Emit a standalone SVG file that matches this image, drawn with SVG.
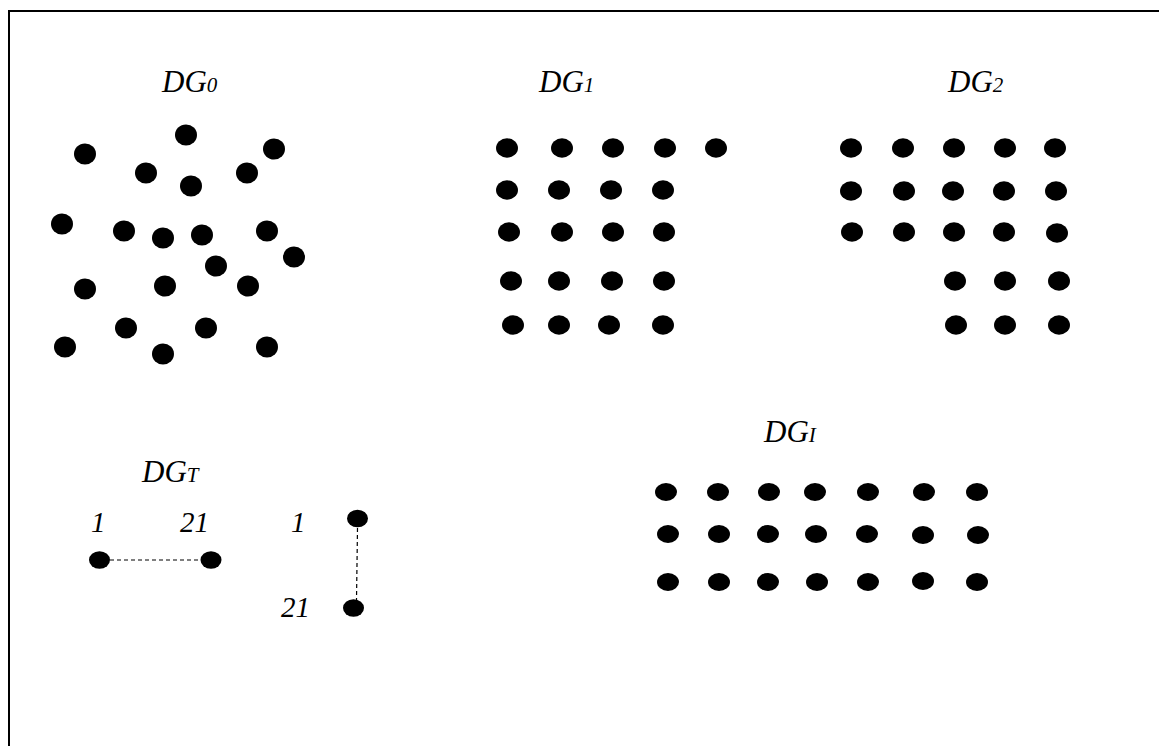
<svg xmlns="http://www.w3.org/2000/svg" width="1159" height="746" viewBox="0 0 1159 746">
<style>
.lbl{font-family:"Liberation Serif","Times New Roman",serif;font-style:italic;font-size:31px;fill:#000}
.sub{font-size:21px}
.num{font-family:"Liberation Serif","Times New Roman",serif;font-style:italic;font-size:29px;fill:#000}
.d0{fill:#000}
.edge{stroke:#000;stroke-width:1.2;stroke-dasharray:4,3;fill:none}
</style>
<rect x="9" y="11" width="1200" height="800" fill="#fff" stroke="#000" stroke-width="2"/>
<g id="DG0">
<text class="lbl" x="162" y="92">DG<tspan class="sub">0</tspan></text>
<g class="d0">
<ellipse cx="186" cy="135" rx="11" ry="10.5"/>
<ellipse cx="85" cy="154" rx="11" ry="10.5"/>
<ellipse cx="274" cy="149" rx="11" ry="10.5"/>
<ellipse cx="146" cy="173" rx="11" ry="10.5"/>
<ellipse cx="247" cy="173" rx="11" ry="10.5"/>
<ellipse cx="191" cy="186" rx="11" ry="10.5"/>
<ellipse cx="62" cy="224" rx="11" ry="10.5"/>
<ellipse cx="124" cy="231" rx="11" ry="10.5"/>
<ellipse cx="163" cy="238" rx="11" ry="10.5"/>
<ellipse cx="202" cy="235" rx="11" ry="10.5"/>
<ellipse cx="267" cy="231" rx="11" ry="10.5"/>
<ellipse cx="294" cy="257" rx="11" ry="10.5"/>
<ellipse cx="216" cy="266" rx="11" ry="10.5"/>
<ellipse cx="85" cy="289" rx="11" ry="10.5"/>
<ellipse cx="165" cy="286" rx="11" ry="10.5"/>
<ellipse cx="248" cy="286" rx="11" ry="10.5"/>
<ellipse cx="126" cy="328" rx="11" ry="10.5"/>
<ellipse cx="206" cy="328" rx="11" ry="10.5"/>
<ellipse cx="65" cy="347" rx="11" ry="10.5"/>
<ellipse cx="163" cy="354" rx="11" ry="10.5"/>
<ellipse cx="267" cy="347" rx="11" ry="10.5"/>
</g>
</g>
<g id="DG1">
<text class="lbl" x="539" y="92">DG<tspan class="sub">1</tspan></text>
<g class="d0">
<ellipse cx="507" cy="148" rx="11" ry="9.7"/>
<ellipse cx="562" cy="148" rx="11" ry="9.7"/>
<ellipse cx="613" cy="148" rx="11" ry="9.7"/>
<ellipse cx="665" cy="148" rx="11" ry="9.7"/>
<ellipse cx="716" cy="148" rx="11" ry="9.7"/>
<ellipse cx="507" cy="190" rx="11" ry="9.7"/>
<ellipse cx="559" cy="190" rx="11" ry="9.7"/>
<ellipse cx="611" cy="190" rx="11" ry="9.7"/>
<ellipse cx="663" cy="190" rx="11" ry="9.7"/>
<ellipse cx="509" cy="232" rx="11" ry="9.7"/>
<ellipse cx="562" cy="232" rx="11" ry="9.7"/>
<ellipse cx="613" cy="232" rx="11" ry="9.7"/>
<ellipse cx="664" cy="232" rx="11" ry="9.7"/>
<ellipse cx="511" cy="281" rx="11" ry="9.7"/>
<ellipse cx="559" cy="281" rx="11" ry="9.7"/>
<ellipse cx="612" cy="281" rx="11" ry="9.7"/>
<ellipse cx="664" cy="281" rx="11" ry="9.7"/>
<ellipse cx="513" cy="325" rx="11" ry="9.7"/>
<ellipse cx="559" cy="325" rx="11" ry="9.7"/>
<ellipse cx="609" cy="325" rx="11" ry="9.7"/>
<ellipse cx="663" cy="325" rx="11" ry="9.7"/>
</g>
</g>
<g id="DG2">
<text class="lbl" x="948" y="92">DG<tspan class="sub">2</tspan></text>
<g class="d0">
<ellipse cx="851" cy="148" rx="11" ry="9.7"/>
<ellipse cx="903" cy="148" rx="11" ry="9.7"/>
<ellipse cx="954" cy="148" rx="11" ry="9.7"/>
<ellipse cx="1005" cy="148" rx="11" ry="9.7"/>
<ellipse cx="1055" cy="148" rx="11" ry="9.7"/>
<ellipse cx="851" cy="191" rx="11" ry="9.7"/>
<ellipse cx="904" cy="191" rx="11" ry="9.7"/>
<ellipse cx="953" cy="191" rx="11" ry="9.7"/>
<ellipse cx="1004" cy="191" rx="11" ry="9.7"/>
<ellipse cx="1056" cy="191" rx="11" ry="9.7"/>
<ellipse cx="852" cy="232" rx="11" ry="9.7"/>
<ellipse cx="904" cy="232" rx="11" ry="9.7"/>
<ellipse cx="954" cy="232" rx="11" ry="9.7"/>
<ellipse cx="1004" cy="232" rx="11" ry="9.7"/>
<ellipse cx="1057" cy="233" rx="11" ry="9.7"/>
<ellipse cx="955" cy="281" rx="11" ry="9.7"/>
<ellipse cx="1005" cy="281" rx="11" ry="9.7"/>
<ellipse cx="1059" cy="281" rx="11" ry="9.7"/>
<ellipse cx="956" cy="325" rx="11" ry="9.7"/>
<ellipse cx="1005" cy="325" rx="11" ry="9.7"/>
<ellipse cx="1059" cy="325" rx="11" ry="9.7"/>
</g>
</g>
<g id="DGI">
<text class="lbl" x="764" y="442">DG<tspan class="sub">I</tspan></text>
<g class="d0">
<ellipse cx="666" cy="492" rx="11" ry="9"/>
<ellipse cx="718" cy="492" rx="11" ry="9"/>
<ellipse cx="769" cy="492" rx="11" ry="9"/>
<ellipse cx="815" cy="492" rx="11" ry="9"/>
<ellipse cx="868" cy="492" rx="11" ry="9"/>
<ellipse cx="924" cy="492" rx="11" ry="9"/>
<ellipse cx="977" cy="492" rx="11" ry="9"/>
<ellipse cx="668" cy="534" rx="11" ry="9"/>
<ellipse cx="719" cy="534" rx="11" ry="9"/>
<ellipse cx="768" cy="534" rx="11" ry="9"/>
<ellipse cx="816" cy="534" rx="11" ry="9"/>
<ellipse cx="867" cy="534" rx="11" ry="9"/>
<ellipse cx="923" cy="535" rx="11" ry="9"/>
<ellipse cx="978" cy="535" rx="11" ry="9"/>
<ellipse cx="668" cy="582" rx="11" ry="9"/>
<ellipse cx="719" cy="582" rx="11" ry="9"/>
<ellipse cx="768" cy="582" rx="11" ry="9"/>
<ellipse cx="817" cy="582" rx="11" ry="9"/>
<ellipse cx="868" cy="582" rx="11" ry="9"/>
<ellipse cx="923" cy="581" rx="11" ry="9"/>
<ellipse cx="977" cy="582" rx="11" ry="9"/>
</g>
</g>
<g id="DGT">
<text class="lbl" x="142" y="482">DG<tspan class="sub">T</tspan></text>
</g>
<g id="connectors">
<line class="edge" x1="110" y1="560" x2="200" y2="560"/>
<line class="edge" x1="357.5" y1="528" x2="356.5" y2="600"/>
</g>
<g id="T_h1">
<ellipse cx="99.5" cy="560" rx="10.5" ry="8.8"/>
<text class="num" x="91" y="532">1</text>
</g>
<g id="T_h21">
<ellipse cx="211" cy="560" rx="10.5" ry="8.8"/>
<text class="num" x="180" y="532">21</text>
</g>
<g id="T_v1">
<ellipse cx="357.5" cy="518.5" rx="10.5" ry="8.8"/>
<text class="num" x="291" y="532">1</text>
</g>
<g id="T_v21">
<ellipse cx="353.5" cy="608" rx="10.5" ry="8.8"/>
<text class="num" x="281" y="617">21</text>
</g>
</svg>
